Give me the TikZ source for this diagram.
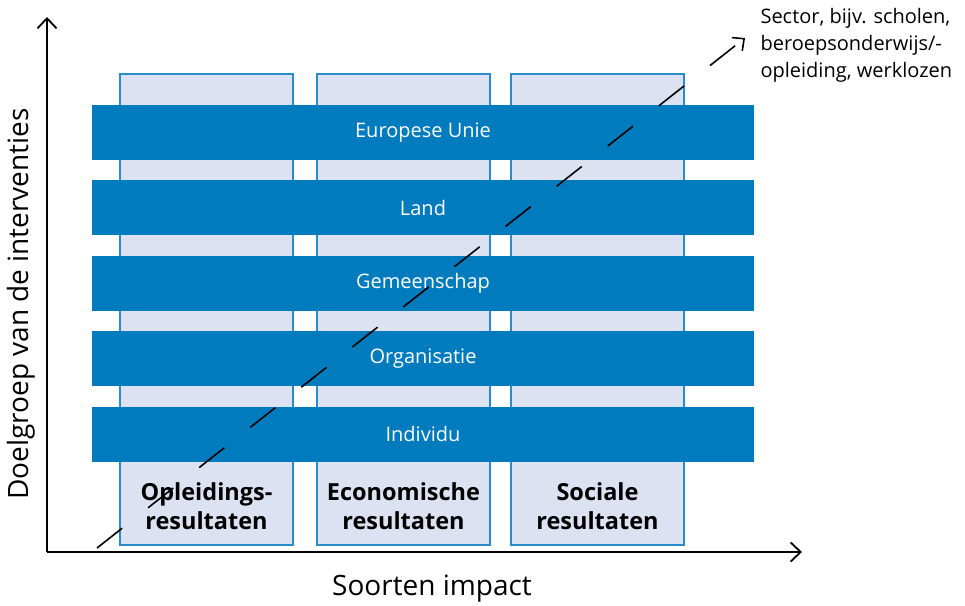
\documentclass[tikz,border=0pt]{standalone}
\usepackage{fontspec}
\setmainfont{Open Sans}
\usetikzlibrary{positioning,arrows.meta}
\definecolor{bardark}{RGB}{0,123,189}
\definecolor{collight}{RGB}{220,226,241}
\definecolor{colline}{RGB}{40,140,205}
\tikzset{
	column/.style   = {draw=colline, line width=1.2pt, fill=collight, minimum width=173pt, minimum height=471pt, inner sep=0pt},
	bar/.style      = {fill=bardark, text=white, minimum width=662pt, minimum height=55pt, inner sep=0pt, font=\fontsize{20}{22}\selectfont},
	collabel/.style = {align=center, font=\fontsize{23.5}{29}\selectfont\bfseries},
	axis/.style     = {line width=1.8pt, -{Straight Barb[length=10pt,width=19pt,line width=1.8pt]}},
	axislabel/.style= {font=\fontsize{28}{30}\selectfont}
}

\begin{document}
\begin{tikzpicture}[x=1pt, y=-1pt]
		\useasboundingbox (0,0) rectangle (965,605);
		% kolommen
		\node[column] (colA) at (206.5,309.5){};
		\node[column] (colB) at (403.5,309.5){};
		\node[column] (colC) at (597.5,309.5){};
		\node[collabel, above=12pt of colA.south] (labA) {Opleidings-\\resultaten};
		\node[collabel, above=12pt of colB.south] (labB) {Economische\\resultaten};
		\node[collabel, above=12pt of colC.south] (labC) {Sociale\\resultaten};
		% niveaus
		\node[bar] (eu)    at (423,132.5){Europese Unie};
		\node[bar, below=20pt of eu]    (land)  {Land};
		\node[bar, below=20pt of land]  (gem)   {Gemeenschap};
		\node[bar, below=20pt of gem]   (org)   {Organisatie};
		\node[bar, below=20pt of org]   (indiv) {Individu};
		% assen
		\coordinate (origin) at (47,552);
		\coordinate (ytop)   at (47,17);
		\coordinate (xend)   at (802,552);
		\draw[axis] (origin) -- (ytop);
		\draw[axis] (origin) -- (xend);
		\node[axislabel, rotate=90] (ylab) at (21,304) {Doelgroep van de interventies};
		\node[axislabel] (xlab) at (432,589) {Soorten impact};
		% sector
		\coordinate (diagA) at (97,548);
		\coordinate (diagB) at (745,38);
		\draw[line width=1.6pt, dash pattern=on 32pt off 33pt, -{Straight Barb[length=9pt,width=17pt,line width=1.6pt]}]
			(diagA) -- (diagB);
		\node[align=left, anchor=west, font=\fontsize{20}{27}\selectfont] (sector) at (757,45)
			{Sector, bijv. scholen,\\beroepsonderwijs/-\\opleiding, werklozen};
	\end{tikzpicture}
\end{document}
